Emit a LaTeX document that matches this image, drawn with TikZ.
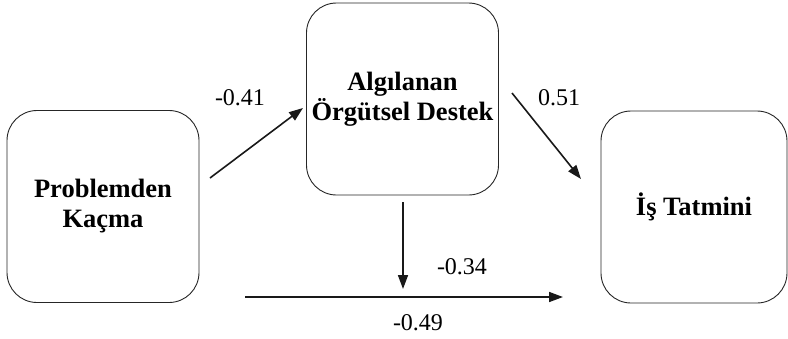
\documentclass[tikz,border=0pt]{standalone}
\usepackage{fontspec}
\setmainfont{Liberation Serif}
\usetikzlibrary{arrows.meta}
\begin{document}
\begin{tikzpicture}[x=1pt,y=-1pt,
  varbox/.style={draw=black!85, line width=0.9pt, rounded corners=30pt,
    minimum width=192pt, minimum height=192pt, align=center,
    font=\fontsize{26.5}{30}\selectfont\bfseries, inner sep=0pt},
  path/.style={draw=black!90, line width=1.6pt, -{Triangle[length=14pt,width=10pt]}},
  coef/.style={font=\fontsize{24}{26}\selectfont, inner sep=0pt}]
\useasboundingbox (0,0) rectangle (788,338);
\fill[white] (0,0) rectangle (788,338);
\node[varbox] (pk) at (103,206.5) {Problemden\\Kaçma};
\node[varbox] (aod) at (402.5,99) {Algılanan\\Örgütsel Destek};
\node[varbox, minimum width=186pt] (it) at (694,207) {İş Tatmini};
\coordinate (a1s) at (210,178);
\coordinate (a1e) at (303,108);
\coordinate (a2s) at (512,93);
\coordinate (a2e) at (581,179);
\coordinate (a3s) at (403,202);
\coordinate (a3e) at (403,289);
\coordinate (a4s) at (245,297);
\coordinate (a4e) at (563,297);
\draw[path] (a1s) -- (a1e);
\draw[path] (a2s) -- (a2e);
\draw[path] (a3s) -- (a3e);
\draw[path] (a4s) -- (a4e);
\node[coef] (c1) at (240,98) {-0.41};
\node[coef] (c2) at (559,98) {0.51};
\node[coef] (c3) at (462,267) {-0.34};
\node[coef] (c4) at (418,323) {-0.49};
\end{tikzpicture}
\end{document}
